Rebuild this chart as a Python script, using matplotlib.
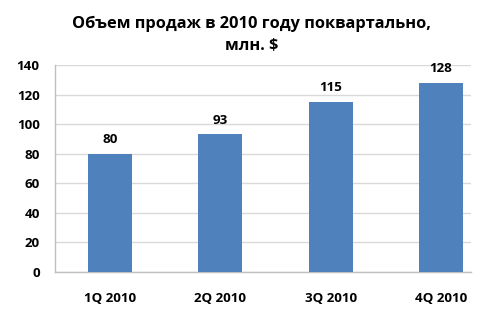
import matplotlib
matplotlib.use("Agg")
import matplotlib.pyplot as plt

categories = ["1Q 2010", "2Q 2010", "3Q 2010", "4Q 2010"]
values = [80, 93, 115, 128]
yticks = [0, 20, 40, 60, 80, 100, 120, 140]
title_text = "Объем продаж в 2010 году поквартально,\nмлн. $"

plt.rcParams['font.family'] = ['Open Sans', 'DejaVu Sans']

fig = plt.figure(figsize=(4.92, 3.24), dpi=100)
ax = fig.add_axes([55/492, 52/324, 416/492, 207/324])

x = list(range(len(categories)))
bars = ax.bar(x, values, width=0.40, color="#4F81BD", zorder=3)

fs = 9.6
ax.set_ylim(0, 140)
ax.set_xlim(-0.4986, 3.272)
ax.set_yticks(yticks)
ax.set_xticks(x)
ax.set_xticklabels(categories, fontweight='bold', fontsize=fs)
ax.set_yticklabels([str(t) for t in yticks], fontweight='bold', fontsize=fs)
ax.tick_params(axis='both', length=0)
ax.tick_params(axis='y', pad=11)
ax.tick_params(axis='x', pad=14.5)

ax.yaxis.grid(True, color="#D9D9D9", linewidth=1, zorder=0)
for s in ['top', 'right']:
    ax.spines[s].set_visible(False)
for s in ['left', 'bottom']:
    ax.spines[s].set_color("#BFBFBF")
    ax.spines[s].set_linewidth(1)

for b, v in zip(bars, values):
    ax.annotate(str(v), (b.get_x() + b.get_width()/2, v), xytext=(0, 5.5),
                textcoords='offset points', ha='center', va='bottom',
                fontweight='bold', fontsize=fs)

fig.text(252/492, 1 - 35/324, title_text, ha='center', va='center',
         fontweight='bold', fontsize=11.8, linespacing=1.55)

fig.savefig("out.png", dpi=100)
